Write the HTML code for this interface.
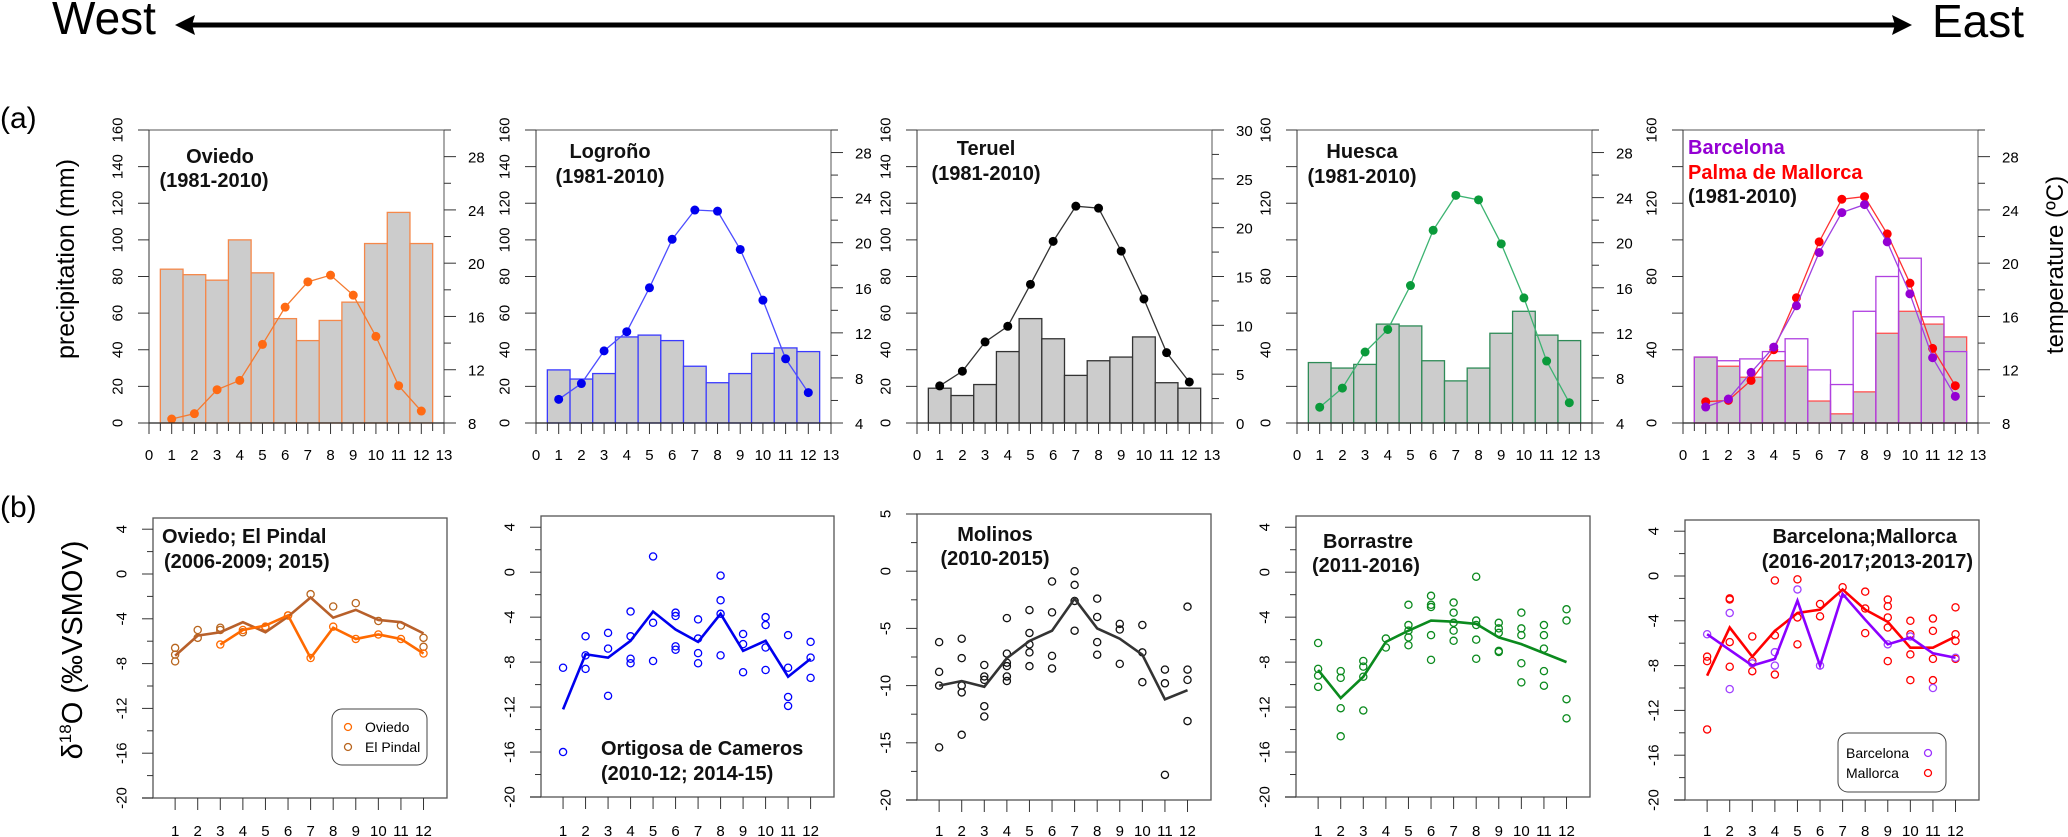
<!DOCTYPE html>
<html><head><meta charset="utf-8"><style>
html,body{margin:0;padding:0;background:#fff;}
svg{display:block;font-family:"Liberation Sans",Arial,sans-serif;}
.t{font-weight:bold;font-size:20px;fill:#111;}
</style></head><body>
<svg id="fig" width="2068" height="837" viewBox="0 0 2068 837" xmlns="http://www.w3.org/2000/svg">
<text x="52" y="34" font-size="46">West</text>
<text x="1932" y="37" font-size="46">East</text>
<line x1="190" y1="25" x2="1895" y2="25" stroke="#000" stroke-width="5"/>
<polygon points="175,25 195,15 192,25 195,35" fill="#000"/>
<polygon points="1912,25 1892,15 1895,25 1892,35" fill="#000"/>
<text x="0" y="128" font-size="30">(a)</text>
<text x="0" y="517" font-size="30">(b)</text>
<text transform="translate(74,259) rotate(-90)" text-anchor="middle" font-size="25">precipitation (mm)</text>
<text transform="translate(2063,265) rotate(-90)" text-anchor="middle" font-size="24">temperature (ºC)</text>
<text transform="translate(82,650) rotate(-90)" text-anchor="middle" font-size="29">δ<tspan font-size="17" dy="-11">18</tspan><tspan dy="11">O (‰VSMOV)</tspan></text>
<g id="plots"></g>
<!-- titles -->
<text class="t" x="220" y="163" text-anchor="middle">Oviedo</text>
<text class="t" x="214" y="187" text-anchor="middle">(1981-2010)</text>
<text class="t" x="610" y="158" text-anchor="middle">Logroño</text>
<text class="t" x="610" y="183" text-anchor="middle">(1981-2010)</text>
<text class="t" x="986" y="155" text-anchor="middle">Teruel</text>
<text class="t" x="986" y="180" text-anchor="middle">(1981-2010)</text>
<text class="t" x="1362" y="158" text-anchor="middle">Huesca</text>
<text class="t" x="1362" y="183" text-anchor="middle">(1981-2010)</text>
<text class="t" x="1688" y="154" style="fill:#9400d3">Barcelona</text>
<text class="t" x="1688" y="179" style="fill:#ff0000">Palma de Mallorca</text>
<text class="t" x="1688" y="203">(1981-2010)</text>
<text class="t" x="162" y="543">Oviedo; El Pindal</text>
<text class="t" x="164" y="568">(2006-2009; 2015)</text>
<text class="t" x="601" y="755">Ortigosa de Cameros</text>
<text class="t" x="601" y="780">(2010-12; 2014-15)</text>
<text class="t" x="995" y="541" text-anchor="middle">Molinos</text>
<text class="t" x="995" y="565" text-anchor="middle">(2010-2015)</text>
<text class="t" x="1323" y="548">Borrastre</text>
<text class="t" x="1312" y="572">(2011-2016)</text>
<text class="t" x="1957" y="543" text-anchor="end">Barcelona;Mallorca</text>
<text class="t" x="1973" y="568" text-anchor="end">(2016-2017;2013-2017)</text>
<!-- legends -->
<rect x="332" y="709" width="95" height="56" rx="10" fill="#fff" stroke="#444"/>
<circle cx="348" cy="727" r="3.5" fill="none" stroke="#ff6a00" stroke-width="1.3"/>
<text x="365" y="732" font-size="14">Oviedo</text>
<circle cx="348" cy="747" r="3.5" fill="none" stroke="#b8651e" stroke-width="1.3"/>
<text x="365" y="752" font-size="14">El Pindal</text>
<rect x="1838" y="733" width="108" height="59" rx="10" fill="#fff" stroke="#444"/>
<text x="1846" y="758" font-size="14">Barcelona</text>
<circle cx="1928" cy="753" r="3.5" fill="none" stroke="#9b30ff" stroke-width="1.3"/>
<text x="1846" y="778" font-size="14">Mallorca</text>
<circle cx="1928" cy="773" r="3.5" fill="none" stroke="#ff0000" stroke-width="1.3"/>
</svg>
<script>
const months=[1,2,3,4,5,6,7,8,9,10,11,12];
const xTickLabelsA=[0,1,2,3,4,5,6,7,8,9,10,11,12,13];
const oviedoPrecip=[84,81,78,100,82,57,45,56,66,98,115,98];
const oviedoTemp=[8.3,8.7,10.5,11.2,13.9,16.7,18.6,19.1,17.6,14.5,10.8,8.9];
const logronoPrecip=[29,24,27,47,48,45,31,22,27,38,41,39];
const logronoTemp=[6.1,7.5,10.4,12.1,16.0,20.3,22.9,22.8,19.4,14.9,9.7,6.7];
const teruelPrecip=[19,15,21,39,57,46,26,34,36,47,22,19];
const teruelTemp=[3.8,5.3,8.3,9.9,14.2,18.6,22.2,22.0,17.6,12.7,7.2,4.2];
const huescaPrecip=[33,30,32,54,53,34,23,30,49,61,48,45];
const huescaTemp=[5.4,7.1,10.3,12.3,16.2,21.1,24.2,23.8,19.9,15.1,9.5,5.8];
const palmaPrecip=[36,31,25,34,31,12,5,17,49,61,54,47];
const barcelonaPrecip=[36,34,35,39,46,29,21,61,80,90,58,39];
const palmaTemp=[9.6,9.7,11.2,13.5,17.4,21.6,24.8,25.0,22.2,18.5,13.6,10.8];
const barcelonaTemp=[9.2,9.8,11.8,13.7,16.8,20.8,23.8,24.4,21.6,17.7,12.9,10.0];
const tempTicksA=[8,12,16,20,24,28];
const tempTicksB=[4,8,12,16,20,24,28];
const tempTicksTeruel=[0,5,10,15,20,25,30];
const precipTicks20=[0,20,40,60,80,100,120,140,160];
const precipTicks40=[0,40,80,120,160];
// (b) isotope data
const oviedoMean=[null,null,-6.3,-5.0,-4.6,-3.7,-7.5,-4.8,-5.8,-5.4,-5.8,-7.1];
const oviedoPts=[[],[],[-6.3],[-5.0],[-4.7],[-3.7],[-7.5],[-4.7],[-5.8],[-5.4],[-5.8],[-7.1]];
const pindalMean=[-7.3,-5.5,-5.2,-4.3,-5.2,-3.8,-2.1,-3.9,-3.2,-4.1,-4.3,-5.3];
const pindalPts=[[-6.6,-7.2,-7.8],[-5.0,-5.7],[-4.8,-5.0],[-5.2],[-4.8],[-3.7],[-1.8],[-2.9],[-2.6],[-4.2],[-4.6],[-5.7,-6.5]];
const ortigosaMean=[-12.2,-7.3,-7.6,-6.1,-3.5,-5.1,-6.2,-3.7,-7.0,-6.1,-9.3,-7.7];
const ortigosaPts=[[-8.5,-16.0],[-5.7,-7.4,-8.6],[-5.4,-6.8,-11.0],[-3.5,-5.7,-7.7,-8.1],[1.4,-4.5,-7.9],[-3.6,-3.9,-6.6,-6.9],[-4.2,-5.9,-7.2,-8.1],[-0.3,-2.5,-3.7,-7.4],[-5.5,-6.4,-8.9],[-4.0,-4.7,-6.7,-8.7],[-5.6,-8.5,-11.1,-11.9],[-6.2,-7.6,-9.4]];
const molinosMean=[-10.0,-9.6,-10.1,-7.6,-6.1,-5.2,-2.4,-5.0,-5.9,-7.3,-11.2,-10.4];
const molinosPts=[[-6.2,-8.8,-10.0,-15.4],[-5.9,-7.6,-10.0,-10.6,-14.3],[-8.2,-9.2,-9.5,-11.8,-12.7],[-4.1,-7.2,-8.0,-8.3,-9.2,-9.6],[-3.4,-5.4,-6.4,-7.1,-8.3],[-0.9,-3.6,-7.4,-8.5],[0,-1.2,-2.6,-5.2],[-2.4,-4.0,-6.2,-7.3],[-4.6,-5.1,-8.1],[-4.7,-7.1,-9.7],[-8.6,-9.8,-17.8],[-3.1,-8.6,-9.5,-13.1]];
const borrastreMean=[-8.7,-11.2,-9.3,-6.2,-5.2,-4.3,-4.4,-4.6,-5.8,-6.4,-7.2,-8.0];
const borrastrePts=[[-6.3,-8.6,-9.2,-10.2],[-8.8,-9.4,-12.1,-14.6],[-7.9,-8.4,-9.3,-12.3],[-5.9,-6.7],[-2.9,-4.7,-5.2,-5.8,-6.5],[-2.1,-2.9,-3.1,-5.6,-7.8],[-2.7,-3.6,-4.5,-5.2,-6.1],[-0.4,-4.3,-4.7,-6.0,-7.7],[-4.5,-5.0,-5.4,-7.0,-7.1],[-3.6,-5.0,-5.6,-8.1,-9.8],[-4.7,-5.6,-6.8,-8.8,-10.1],[-3.3,-4.3,-11.3,-13.0]];
const mallorcaMean=[-8.9,-4.6,-7.2,-4.9,-3.3,-3.0,-1.2,-3.0,-4.1,-6.4,-6.4,-5.4];
const mallorcaPts=[[-7.2,-7.6,-13.7],[-2.0,-2.1,-5.9,-8.1],[-5.4,-7.6,-8.5],[-0.4,-5.3,-8.8],[-0.3,-3.7,-6.1],[-2.5,-3.6],[-1.0],[-1.4,-2.9,-5.1],[-2.1,-2.7,-3.7,-4.6,-7.6],[-4.0,-5.2,-7.0,-9.3],[-3.8,-4.9,-7.4,-9.3],[-2.8,-5.2,-5.8,-7.4]];
const bcnMean=[-5.2,-6.6,-8.0,-7.4,-2.2,-8.0,-1.6,-3.9,-6.1,-5.5,-6.9,-7.3];
const bcnPts=[[-5.2],[-3.3,-10.1],[-7.8],[-6.8,-8.0],[-1.2],[-8.0],[-1.6],[],[-6.1],[-5.4],[-10.0],[-7.3]];
const isoTicks4=[4,0,-4,-8,-12,-16,-20];
const isoTicks5=[5,0,-5,-10,-15,-20];

const NS='http://www.w3.org/2000/svg';
const root=document.getElementById('plots');
function mk(tag,parent){const e=document.createElementNS(NS,tag);parent.appendChild(e);return e;}
function ln(p,x1,y1,x2,y2,c,w){const e=mk('line',p);e.setAttribute('x1',x1);e.setAttribute('y1',y1);e.setAttribute('x2',x2);e.setAttribute('y2',y2);e.setAttribute('stroke',c);e.setAttribute('stroke-width',w);return e;}
function tx(p,x,y,s,size,anchor,rot){const e=mk('text',p);e.textContent=s;e.setAttribute('font-size',size);e.setAttribute('text-anchor',anchor);
 if(rot){e.setAttribute('transform','translate('+x+','+y+') rotate(-90)');e.setAttribute('dy','0.35em');}else{e.setAttribute('x',x);e.setAttribute('y',y);}return e;}

function panelA(name,L,precipSets,tempSets,tmin,tTicks,tMinorStep,pTicks){
  const W=295,T=130,B=423,R=L+W;
  const g=mk('g',root);
  
  
  const xs=v=>L+v/13*W, yP=v=>B-v/160*(B-T), yT=v=>B-(v-tmin)/(30-tmin)*(B-T);
  const box=mk('rect',g);box.setAttribute('x',L);box.setAttribute('y',T);box.setAttribute('width',W);box.setAttribute('height',B-T);box.setAttribute('fill','#fff');box.setAttribute('stroke','#555');
  
  
  precipSets.forEach(ps=>{
    ps.vals.forEach((v,i)=>{const m=months[i];
      const r=mk('rect',g);r.setAttribute('x',xs(m-0.5));r.setAttribute('y',yP(v));r.setAttribute('width',xs(1)-xs(0));r.setAttribute('height',yP(0)-yP(v));
      r.setAttribute('fill',ps.fill);r.setAttribute('stroke',ps.stroke);r.setAttribute('stroke-width',1.3);
      
      });
  });
  tempSets.forEach(ts=>{
    const pl=mk('polyline',g);pl.setAttribute('points',ts.vals.map((v,i)=>xs(months[i])+','+yT(v)).join(' '));pl.setAttribute('fill','none');pl.setAttribute('stroke',ts.line);pl.setAttribute('stroke-width',1.3);
    
    
    ts.vals.forEach((v,i)=>{const c=mk('circle',g);c.setAttribute('cx',xs(months[i]));c.setAttribute('cy',yT(v));c.setAttribute('r',4.5);c.setAttribute('fill',ts.dot);
      
      });
  });
  // x axis
  ln(g,L,B,R,B,'#222',1.3);
  for(let v=0;v<=13;v+=0.5){ln(g,xs(v),B,xs(v),B+(v%1===0?11:8),'#333',1);}
  xTickLabelsA.forEach(v=>{const t=tx(g,xs(v),460,String(v),15,'middle');
    
    });
  // left axis
  ln(g,L,T,L,B,'#333',1);
  for(let v=0;v<=160;v+=20){ln(g,L-11,yP(v),L,yP(v),'#333',1);}
  pTicks.forEach(v=>{const t=tx(g,L-32,yP(v),String(v),15,'middle',true);
    
    });
  // right axis
  for(let v=tmin;v<=30.001;v+=tMinorStep){const maj=tTicks.indexOf(Math.round(v*100)/100)>=0;ln(g,R,yT(v),R+(maj?12:7),yT(v),'#333',1);}
  tTicks.forEach(v=>{const t=tx(g,R+24,yT(v)+6,String(v),15,'start');
    
    });
}

panelA('oviedo',149,[{key:'p',vals:oviedoPrecip,fill:'#cccccc',stroke:'#f5884a'}],[{key:'t',vals:oviedoTemp,line:'#f47a30',dot:'#ff6a13'}],8,tempTicksA,2,precipTicks20);
panelA('logrono',536,[{key:'p',vals:logronoPrecip,fill:'#cccccc',stroke:'#3a3aff'}],[{key:'t',vals:logronoTemp,line:'#4d4dff',dot:'#0000ee'}],4,tempTicksB,2,precipTicks20);
panelA('teruel',917,[{key:'p',vals:teruelPrecip,fill:'#cccccc',stroke:'#333'}],[{key:'t',vals:teruelTemp,line:'#333',dot:'#000'}],0,tempTicksTeruel,2.5,precipTicks20);
panelA('huesca',1297,[{key:'p',vals:huescaPrecip,fill:'#cccccc',stroke:'#2e8b57'}],[{key:'t',vals:huescaTemp,line:'#3cb371',dot:'#0a9a3a'}],4,tempTicksB,2,precipTicks40);
panelA('barcelona-palma',1683,[{key:'palma',vals:palmaPrecip,fill:'#cccccc',stroke:'#ff5050'},{key:'barcelona',vals:barcelonaPrecip,fill:'none',stroke:'#b040e0'}],
  [{key:'palma',vals:palmaTemp,line:'#ff3030',dot:'#ff0000'},{key:'barcelona',vals:barcelonaTemp,line:'#a040e0',dot:'#9400d3'}],8,tempTicksA,2,precipTicks40);

function panelB(name,L,W,T,B,ticks,minorStep,series){
  const g=mk('g',root);
  
  
  const xs=m=>L+(m-0.02)*W/13.02, ys=v=>B-(v+20)/25*(B-T);
  const box=mk('rect',g);box.setAttribute('x',L);box.setAttribute('y',T);box.setAttribute('width',W);box.setAttribute('height',B-T);box.setAttribute('fill','#fff');box.setAttribute('stroke','#555');box.setAttribute('stroke-width',1.3);
  
  
  ln(g,L-11,B,L,B,'#333',1.3);
  const top=ticks[0];
  for(let v=-20;v<=top+0.001;v+=minorStep){const maj=ticks.indexOf(v)>=0;ln(g,L-(maj?11:6),ys(v),L,ys(v),'#333',1);}
  ticks.forEach(v=>{const t=tx(g,L-32,ys(v),String(v),15,'middle',true);
    
    });
  months.forEach(m=>{ln(g,xs(m),B,xs(m),B+12,'#333',1);
    const t=tx(g,xs(m),836,String(m),15,'middle');
    
    });
  series.forEach(s=>{
    s.pts.forEach((arr,i)=>arr.forEach(v=>{const c=mk('circle',g);c.setAttribute('cx',xs(months[i]));c.setAttribute('cy',ys(v));c.setAttribute('r',3.6);c.setAttribute('fill','none');c.setAttribute('stroke',s.pc);c.setAttribute('stroke-width',1.3);
      
      }));
  });
  series.forEach(s=>{
    const p=[];s.mean.forEach((v,i)=>{if(v!==null)p.push(xs(months[i])+','+ys(v));});
    const pl=mk('polyline',g);pl.setAttribute('points',p.join(' '));pl.setAttribute('fill','none');pl.setAttribute('stroke',s.lc);pl.setAttribute('stroke-width',2.6);
    
    
  });
}
panelB('oviedo-pindal',153,294,518,798,isoTicks4,2,[{key:'pindal',mean:pindalMean,pts:pindalPts,pc:'#b8651e',lc:'#b8602a'},{key:'oviedo',mean:oviedoMean,pts:oviedoPts,pc:'#ff6a00',lc:'#ff6a00'}]);
panelB('ortigosa',541,293,516,797,isoTicks4,2,[{key:'ortigosa',mean:ortigosaMean,pts:ortigosaPts,pc:'#0000ff',lc:'#0000ee'}]);
panelB('molinos',917,294,514,800,isoTicks5,2.5,[{key:'molinos',mean:molinosMean,pts:molinosPts,pc:'#111',lc:'#333'}]);
panelB('borrastre',1296,294,516,797,isoTicks4,2,[{key:'borrastre',mean:borrastreMean,pts:borrastrePts,pc:'#0b8a1e',lc:'#0b8a1e'}]);
panelB('bcn-mallorca',1685,294,520,800,isoTicks4,2,[{key:'mallorca',mean:mallorcaMean,pts:mallorcaPts,pc:'#ff0000',lc:'#ff0000'},{key:'barcelona',mean:bcnMean,pts:bcnPts,pc:'#a040ff',lc:'#8b00ff'}]);
</script>
</body></html>
